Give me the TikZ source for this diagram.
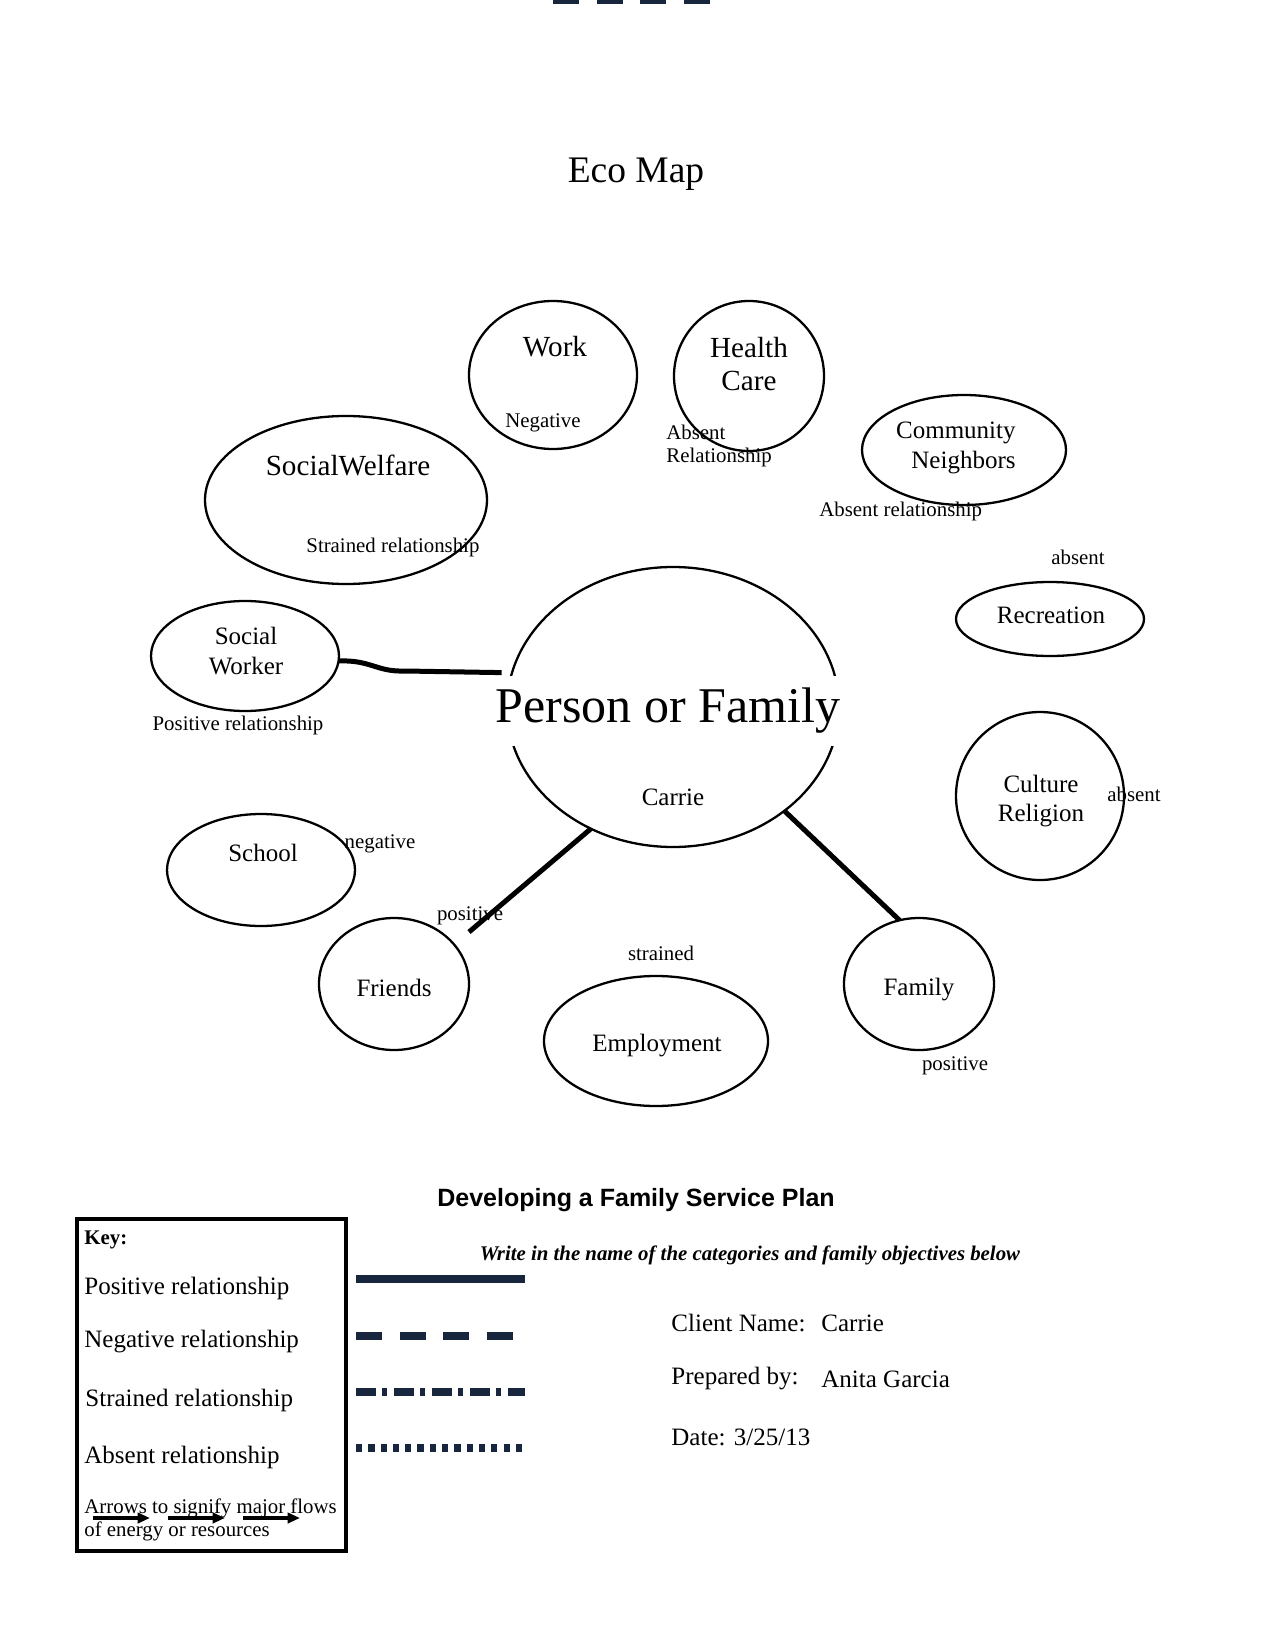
\documentclass[tikz,border=0pt]{standalone}
\usepackage{fontspec}
\setmainfont{Liberation Serif}
\newfontfamily\headfont{Liberation Sans}
\usepackage{xcolor}
\usetikzlibrary{shapes.geometric,arrows.meta}
\definecolor{keynavy}{RGB}{23,38,60}

\begin{document}
\begin{tikzpicture}[x=0.48pt,y=-0.48pt,
  every node/.style={inner sep=0pt},
  sys/.style 2 args={draw,ellipse,line width=1.1pt,outer sep=0pt,
    minimum width=#1*0.96pt,minimum height=#2*0.96pt},
  bigtxt/.style={font=\fontsize{14}{16}\selectfont},
  midtxt/.style={font=\fontsize{12}{14}\selectfont},
  smalltxt/.style={font=\fontsize{10}{11.5}\selectfont},
  relline/.style={line width=2.4pt},
  keyline/.style={draw=keynavy,line width=3.4pt}]
  \useasboundingbox (0,0) rectangle (1275,1650);
  \fill[white] (0,0) rectangle (1275,1650);

  % cut-off rule at the top of the page
  \draw[keyline,dash pattern=on 12.5pt off 8.4pt] (553,0) -- (710,0);

  \node[font=\fontsize{18}{21}\selectfont] (title) at (636,174) {Eco Map};

  % systems round the person
  \node[sys={84}{74}] (work) at (553,375) {};
  \node[sys={75}{75}] (health) at (749,376) {};
  \node[sys={102}{55}] (community) at (964,450) {};
  \node[sys={141}{84}] (welfare) at (346,500) {};
  \node[sys={94}{37}] (recreation) at (1050,619) {};
  \node[sys={94}{55}] (worker) at (245,656) {};
  \node[sys={166}{140}] (person) at (673,707) {};
  \node[sys={84}{84}] (culture) at (1040,796) {};
  \node[sys={94}{56}] (school) at (261,870) {};
  \node[sys={75}{66}] (friends) at (394,984) {};
  \node[sys={112}{65}] (employment) at (656,1041) {};
  \node[sys={75}{66}] (family) at (919,984) {};

  % relationships
  \coordinate (friendsend) at (469,932);
  \draw[relline,shorten >=5pt] (worker.-3) .. controls (372,660) and (376,672) .. (405,671) -- (person.168);
  \draw[relline] (person.236) -- (friendsend);
  \draw[relline] (person.-43) -- (family.107);

  % labels
  \node[bigtxt] (worklbl) at (555,347) {Work};
  \node[smalltxt] (worknote) at (543,423) {Negative};
  \node[bigtxt,align=center] (healthlbl) at (749,364) {Health\\Care};
  \node[smalltxt,align=left,anchor=west] (healthnote) at (666,446) {Absent\\Relationship};
  \node[midtxt,align=right,anchor=east] (communitylbl) at (1016,448) {Community\\Neighbors};
  \node[smalltxt,anchor=west] (communitynote) at (819,511) {Absent relationship};
  \node[bigtxt] (welfarelbl) at (348,465) {SocialWelfare};
  \node[smalltxt,anchor=west] (welfarenote) at (306,547) {Strained relationship};
  \node[smalltxt] (recnote) at (1078,557) {absent};
  \node[midtxt] (reclbl) at (1051,615) {Recreation};
  \node[midtxt,align=center] (workerlbl) at (246,651) {Social\\Worker};
  \node[smalltxt] (workernote) at (238,725) {Positive relationship};
  \node[font=\fontsize{24}{28}\selectfont,fill=white,inner xsep=2pt,inner ysep=6pt] (personlbl) at (668,711) {Person or Family};
  \node[midtxt] (carrie) at (673,797) {Carrie};
  \node[midtxt,align=center] (culturelbl) at (1041,801) {Culture\\Religion};
  \node[smalltxt] (culturenote) at (1134,794) {absent};
  \node[midtxt] (schoollbl) at (263,853) {School};
  \node[smalltxt] (schoolnote) at (380,844) {negative};
  \node[midtxt] (friendslbl) at (394,988) {Friends};
  \node[smalltxt] (friendsnote) at (470,916) {positive};
  \node[smalltxt] (emplnote) at (661,953) {strained};
  \node[midtxt] (empllbl) at (657,1046) {Employment};
  \node[midtxt] (familylbl) at (919,990) {Family};
  \node[smalltxt] (familynote) at (955,1066) {positive};

  % service plan and key
  \node[font=\headfont\bfseries\fontsize{12}{14}\selectfont] (plan) at (636,1200) {Developing a Family Service Plan};
  \node[font=\bfseries\itshape\fontsize{10}{12}\selectfont] (write) at (750,1255) {Write in the name of the categories and family objectives below};

  \draw[line width=2pt] (77,1219) rectangle (346,1551);
  \node[font=\bfseries\fontsize{10}{12}\selectfont,anchor=west] (key) at (84,1240) {Key:};
  \node[midtxt,anchor=west] (kpos) at (84,1288) {Positive relationship};
  \node[midtxt,anchor=west] (kneg) at (84,1342) {Negative relationship};
  \node[midtxt,anchor=west] (kstr) at (85,1400) {Strained relationship};
  \node[midtxt,anchor=west] (kabs) at (84,1457) {Absent relationship};
  \node[font=\fontsize{10}{11}\selectfont,anchor=west,align=left] (kflow) at (84,1520) {Arrows to signify major flows\\of energy or resources};
  \foreach \x in {93,168,243}
    \draw[line width=1.5pt,-{Triangle[length=6pt,width=5pt]}] (\x,1518) -- ++(57,0);

  \draw[keyline] (356,1279) -- (525,1279);
  \draw[keyline,dash pattern=on 12.5pt off 8.4pt] (356,1336) -- (513,1336);
  \draw[keyline,dash pattern=on 9.6pt off 3.1pt on 2.4pt off 3.1pt] (356,1392) -- (525,1392);
  \draw[keyline,dash pattern=on 3pt off 2.9pt] (356,1448) -- (525,1448);

  \node[midtxt,anchor=west] (client) at (671,1323) {Client Name:};
  \node[midtxt,anchor=west] (clientval) at (821,1323) {Carrie};
  \node[midtxt,anchor=west] (prep) at (671,1379) {Prepared by:};
  \node[midtxt,anchor=west] (prepval) at (821,1379) {Anita Garcia};
  \node[midtxt,anchor=west] (date) at (671,1437) {Date: 3/25/13};
\end{tikzpicture}
\end{document}
